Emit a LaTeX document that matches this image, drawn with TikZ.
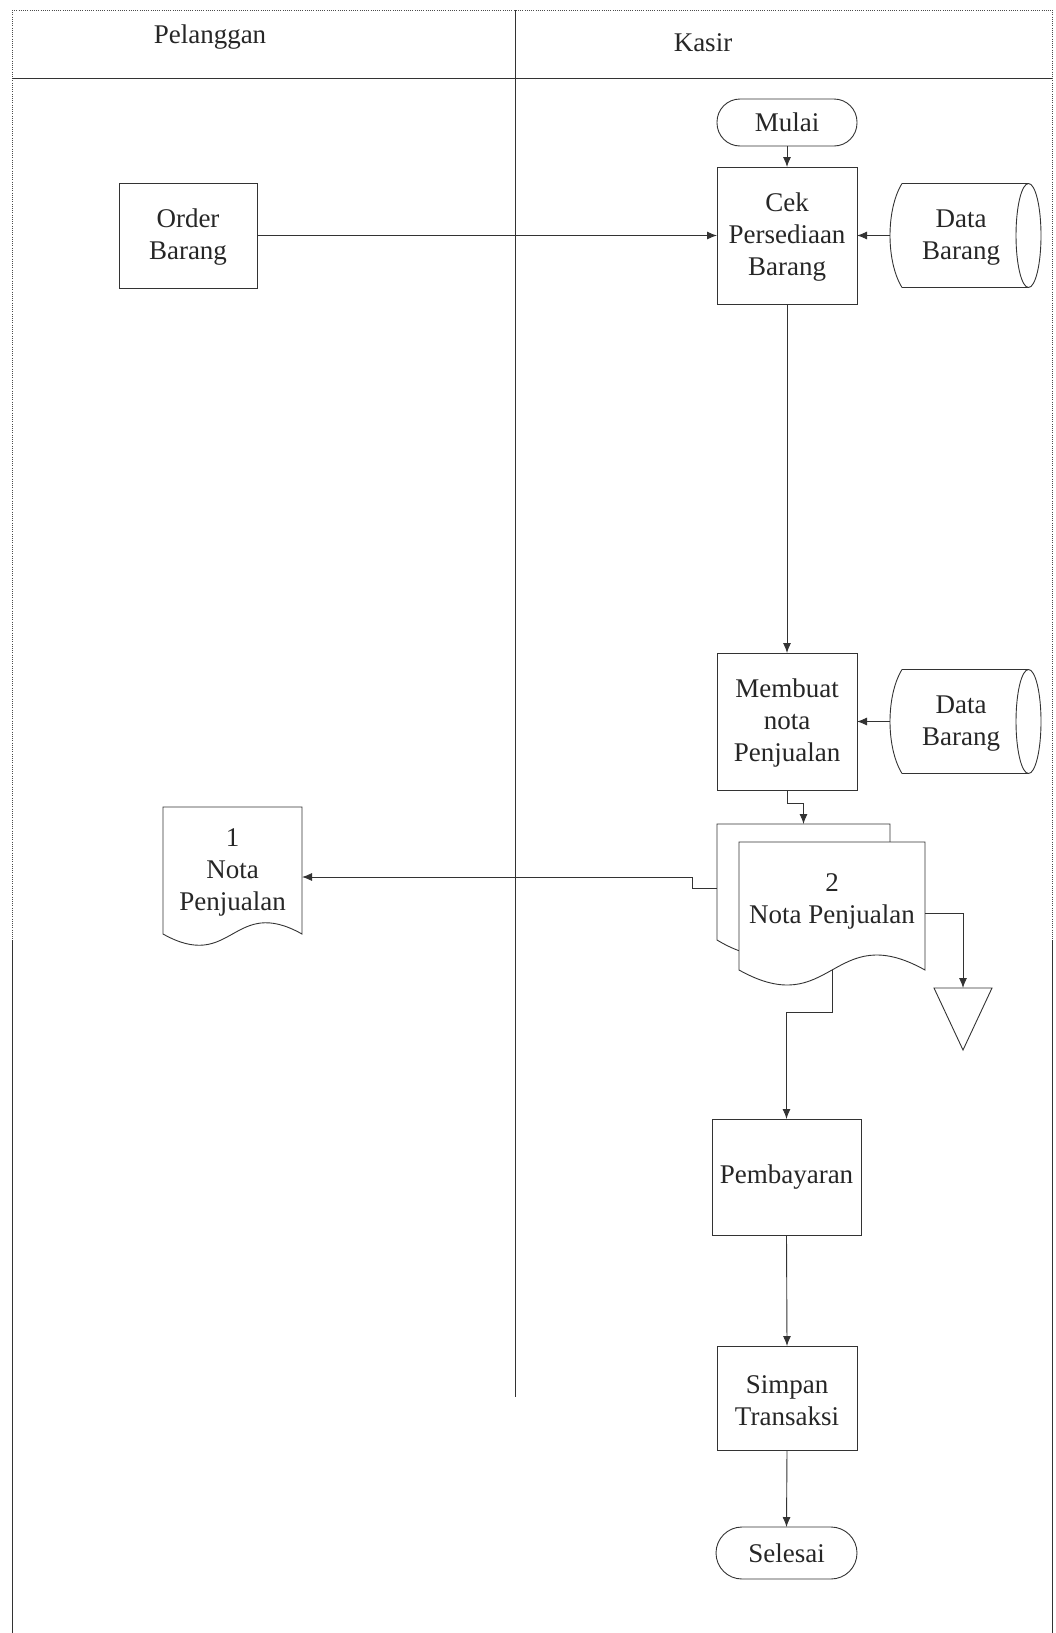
\documentclass[tikz,border=0pt]{standalone}
\usepackage{fontspec}
\setmainfont{Liberation Serif}
\usetikzlibrary{arrows.meta,calc}
\begin{document}
\begin{tikzpicture}[x=1pt,y=-1pt,
  every node/.style={font=\fontsize{27}{32}\selectfont, text=black!85, align=center, inner sep=0pt, outer sep=0pt},
  ln/.style={draw=black!80, line width=0.9pt},
  dotln/.style={draw=black!70, line width=0.9pt, dash pattern=on 1pt off 1.2pt},
  arr/.style={ln, -{Latex[length=10pt,width=8pt]}},
  procbox/.style={ln, rectangle, minimum width=#1},
  termbox/.style={ln, rectangle, rounded corners=23pt, minimum width=#1},
  ghost/.style={rectangle, minimum width=#1}
]
\useasboundingbox (0,0) rectangle (1055,1633);

% swimlane frame
\draw[dotln] (12,10) -- (1052,10);
\draw[dotln] (12,10) -- (12,940);
\draw[ln] (12,940) -- (12,1633);
\draw[dotln] (1052,10) -- (1052,940);
\draw[ln] (1052,940) -- (1052,1633);
\draw[ln] (12,78) -- (1052,78);
\draw[ln] (515,10) -- (515,1397);
\node (lanep) at (210,37) {Pelanggan};
\node (lanek) at (703,43) {Kasir};

% nodes
\node[termbox=140pt, minimum height=47pt] (mulai) at (787,122.5) {Mulai};
\node[procbox=140pt, minimum height=137pt] (cek) at (787,235.5) {\strut Cek\\Persediaan\\Barang};
\node[procbox=138pt, minimum height=105pt] (order) at (188,235.5) {\strut Order\\Barang};
\node[ghost=151pt, minimum height=104pt] (db1) at (965.5,235.5) {};
\node (db1t) at ([xshift=-4.5pt,yshift=-2pt]db1.center) {Data\\Barang};
\node[procbox=140pt, minimum height=137pt] (memb) at (787,721.5) {\strut Membuat\\nota\\Penjualan};
\node[ghost=151pt, minimum height=104pt] (db2) at (965.5,721.5) {};
\node (db2t) at ([xshift=-4.5pt,yshift=-2pt]db2.center) {Data\\Barang};
\node[ghost=173pt, minimum height=116pt] (doc2b) at (803.5,882) {};
\node[ghost=186pt, minimum height=128pt] (doc2) at (832,906) {};
\node[ghost=139pt, minimum height=127pt] (nota1) at (232.5,870.5) {\strut 1\\Nota\\Penjualan};
\node[ghost=58pt, minimum height=62pt] (tri) at (963,1019) {};
\node[procbox=149pt, minimum height=116pt] (pay) at (786.5,1177) {Pembayaran};
\node[procbox=140pt, minimum height=104pt] (simpan) at (787,1398) {\strut Simpan\\Transaksi};
\node[termbox=141pt, minimum height=52pt, rounded corners=26pt] (selesai) at (786.5,1553) {Selesai};

% stored data shapes
\foreach \d in {db1,db2}{
  \draw[ln] ([xshift=12pt]\d.north west) -- ([xshift=-12.5pt]\d.north east)
            ([xshift=12pt]\d.south west) -- ([xshift=-12.5pt]\d.south east)
            ([xshift=12pt]\d.north west) .. controls ([xshift=-4pt,yshift=26pt]\d.west) and ([xshift=-4pt,yshift=-26pt]\d.west) .. ([xshift=12pt]\d.south west)
            ([xshift=-12.5pt]\d.east) ellipse [x radius=12.5pt, y radius=52pt];
}

% document shapes
\draw[ln] (nota1.north west) -- (nota1.north east) -- (nota1.south east)
  .. controls ($(nota1.south)+(0,-39)$) and ($(nota1.south)+(0,39)$) .. (nota1.south west) -- cycle;
\filldraw[ln, fill=white] (doc2b.north west) -- (doc2b.north east) -- (doc2b.south east)
  .. controls ($(doc2b.south)+(0,-52)$) and ($(doc2b.south)+(0,52)$) .. (doc2b.south west) -- cycle;
\filldraw[ln, fill=white] (doc2.north west) -- (doc2.north east) -- (doc2.south east)
  .. controls ($(doc2.south)+(0,-52)$) and ($(doc2.south)+(0,52)$) .. (doc2.south west) -- cycle;
\node (doc2t) at ([yshift=5pt]doc2.center) {2\\Nota Penjualan};

% off-page / archive triangle
\draw[ln] (tri.north west) -- (tri.north east) -- (tri.south) -- cycle;

% connectors
\draw[arr] (mulai.south) -- (cek.north);
\draw[arr] (order.east) -- (cek.west);
\draw[arr] (db1.west) -- (cek.east);
\draw[arr] (cek.south) -- (memb.north);
\draw[arr] (db2.west) -- (memb.east);
\draw[arr] (memb.south) -- ++(0,13) -| (doc2b.north);
\draw[arr] ([yshift=-6pt]doc2b.west) -- ++(-25,0) |- ([yshift=-6.5pt]nota1.east);
\draw[arr] ([yshift=-7pt]doc2.east) -| (tri.north);
\draw[arr] (doc2.south) -- ++(0,42) -| (pay.north);
\draw[arr] (pay.south) -- (simpan.north);
\draw[arr] (simpan.south) -- (selesai.north);
\end{tikzpicture}
\end{document}
